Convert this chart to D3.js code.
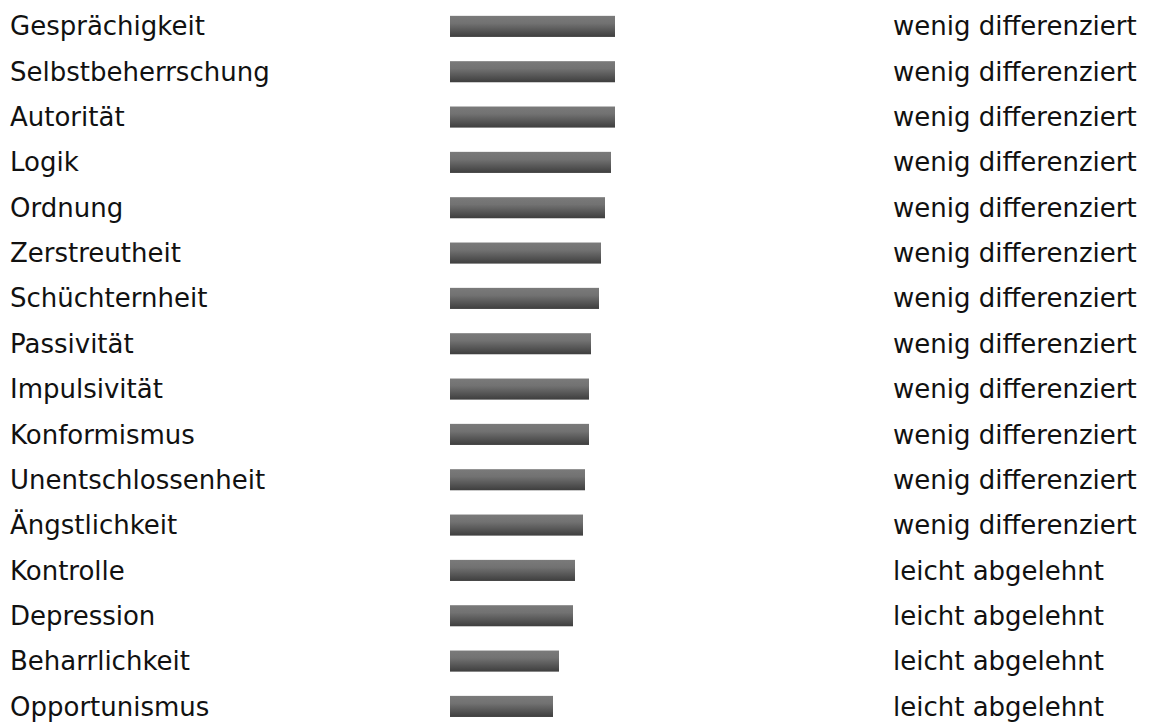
<!DOCTYPE html>
<html>
<head>
<meta charset="utf-8">
<script src="https://cdn.jsdelivr.net/npm/d3@7"></script>
<style>
  body { margin: 0; background: #fff; }
  text { font-family: "DejaVu Sans", sans-serif; fill: #111; }
</style>
</head>
<body>
<div id="chart"></div>
<script>
// traits, scores and verdicts
const traits = ["Gesprächigkeit", "Selbstbeherrschung", "Autorität", "Logik", "Ordnung",
    "Zerstreutheit", "Schüchternheit", "Passivität", "Impulsivität", "Konformismus",
    "Unentschlossenheit", "Ängstlichkeit", "Kontrolle", "Depression", "Beharrlichkeit",
    "Opportunismus"];
const scores = [165, 165, 165, 161, 155, 151, 149, 141, 139, 139, 135, 133, 125, 123, 109, 103];
const verdicts = ["wenig differenziert", "wenig differenziert", "wenig differenziert",
    "wenig differenziert", "wenig differenziert", "wenig differenziert", "wenig differenziert",
    "wenig differenziert", "wenig differenziert", "wenig differenziert", "wenig differenziert",
    "wenig differenziert", "leicht abgelehnt", "leicht abgelehnt", "leicht abgelehnt",
    "leicht abgelehnt"];

const width = 1149, height = 722;

const svg = d3.select("#chart")
    .append("svg")
    .attr("width", width)
    .attr("height", height);

// bar gradient, light on top, dark at the bottom
const grad = svg.append("defs").append("linearGradient")
    .attr("id", "barGrad")
    .attr("x1", 0).attr("y1", 0).attr("x2", 0).attr("y2", 1);
grad.append("stop").attr("offset", "0%").attr("stop-color", "#7a7a7a");
grad.append("stop").attr("offset", "35%").attr("stop-color", "#727272");
grad.append("stop").attr("offset", "100%").attr("stop-color", "#3e3e3e");

const y = d3.scaleBand()
    .domain(traits)
    .range([3.6, 729.2])
    .paddingInner(0.535)
    .paddingOuter(0.27);

const x = d3.scaleLinear()
    .domain([0, 165])
    .range([450, 615]);

const rows = svg.append("g")
    .selectAll("g")
    .data(traits)
    .join("g");

rows.append("text")
    .attr("x", 10)
    .attr("y", d => y(d) + y.bandwidth() / 2)
    .attr("dy", "0.35em")
    .style("font-size", "26px")
    .text(d => d);

rows.append("rect")
    .attr("x", x(0))
    .attr("y", d => y(d))
    .attr("height", y.bandwidth())
    .attr("width", (d, i) => x(scores[i]) - x(0))
    .attr("fill", "url(#barGrad)");

rows.append("text")
    .attr("x", 893)
    .attr("y", d => y(d) + y.bandwidth() / 2)
    .attr("dy", "0.35em")
    .style("font-size", "26px")
    .text((d, i) => verdicts[i]);
</script>
</body>
</html>
